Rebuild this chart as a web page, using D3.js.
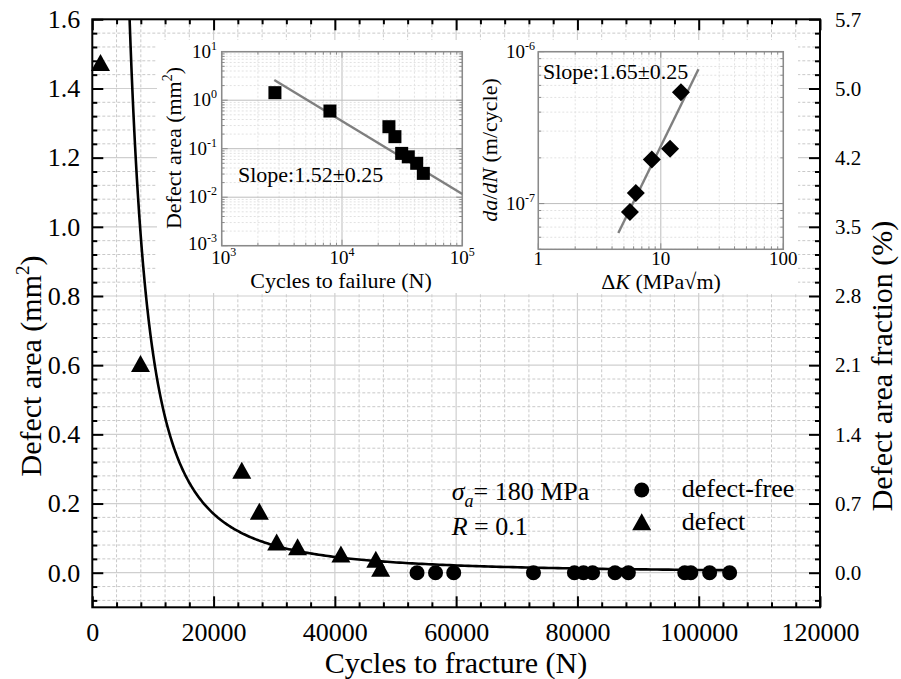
<!DOCTYPE html>
<html><head><meta charset="utf-8">
<script src="https://cdn.jsdelivr.net/npm/d3@7"></script>
<style>
body{margin:0;background:#fff;}
svg{display:block;}
text{font-family:"Liberation Serif","Times New Roman",serif;fill:#000;}
</style></head><body>
<svg id="chart" width="901" height="679"></svg>
<script>
// ---- main panel: cycles to fracture vs defect area ----
const defectCycles = [1350, 7950, 24650, 27550, 30400, 33850, 41000, 46750, 47550];
const defectArea   = [1.475, 0.605, 0.296, 0.178, 0.089, 0.075, 0.054, 0.039, 0.013];
const freeCycles = [53550, 56600, 59600, 72750, 79500, 81000, 82500, 86200, 88400, 97700, 98700, 101800, 105100];
const freeArea   = [0, 0, 0, 0, 0, 0, 0, 0, 0, 0, 0, 0, 0];
// power-law fit: area = A * N^(-b)
const fitCoef  = [2.53e7, 1.9];
const fitRange = [5000, 105200];

const xTicks = [0, 20000, 40000, 60000, 80000, 100000, 120000];
const yTicks = [0.0, 0.2, 0.4, 0.6, 0.8, 1.0, 1.2, 1.4, 1.6];
const fractionLabels = ["0.0", "0.7", "1.4", "2.1", "2.8", "3.5", "4.2", "5.0", "5.7"];

// ---- inset A: log-log defect area vs cycles to failure ----
const insetCycles = [2770, 7940, 24550, 27540, 31340, 35560, 41780, 47430];
const insetArea   = [1.43, 0.598, 0.284, 0.177, 0.080, 0.068, 0.050, 0.031];
const insetFitCycles = [2735, 100000];
const insetFitArea   = [2.61, 0.0116];
const insetXTicks = [1e3, 1e4, 1e5];
const insetXExp   = ["3", "4", "5"];
const insetYTicks = [1e-3, 1e-2, 1e-1, 1e0, 1e1];
const insetYExp   = ["-3", "-2", "-1", "0", "1"];

// ---- inset B: crack growth rate vs stress intensity range ----
const deltaK     = [5.6, 6.25, 8.45, 11.9, 14.6];
const growthRate = [8.8e-8, 1.175e-7, 1.95e-7, 2.3e-7, 5.4e-7];
const growthFitK    = [4.5, 20.3];
const growthFitRate = [6.4e-8, 7.66e-7];
const growthXTicks  = [1, 10, 100];
const growthXLabels = ["1", "10", "100"];
const growthYTicks  = [1e-7, 1e-6];
const growthYExp    = ["-7", "-6"];

const svg = d3.select("#chart");
const P = {x0: 92.3, x1: 820, y0: 19.3, y1: 607.3};
const x = d3.scaleLinear().domain([0, 120000]).range([P.x0, P.x1]);
const y = d3.scaleLinear().domain([-0.1, 1.6]).range([P.y1, P.y0]);

svg.append("rect").attr("width", 901).attr("height", 679).attr("fill", "#fff");

// grid
const grid = svg.append("g");
const xMinor = d3.range(0, 31).map(i => i * 4000).filter(v => v % 20000 !== 0);
const yMinor = d3.range(-2, 41).map(i => +(i * 0.04).toFixed(2)).filter((v, i) => (i - 2) % 5 !== 0);
grid.selectAll(".xm").data(xMinor).join("line")
  .attr("x1", d => x(d)).attr("x2", d => x(d)).attr("y1", P.y0).attr("y2", P.y1)
  .attr("stroke", "#c9c9c9").attr("stroke-width", 1).attr("stroke-dasharray", "3,2");
grid.selectAll(".ym").data(yMinor).join("line")
  .attr("x1", P.x0).attr("x2", P.x1).attr("y1", d => y(d)).attr("y2", d => y(d))
  .attr("stroke", "#c9c9c9").attr("stroke-width", 1).attr("stroke-dasharray", "3,2");
grid.selectAll(".xM").data(xTicks.slice(1, -1)).join("line")
  .attr("x1", d => x(d)).attr("x2", d => x(d)).attr("y1", P.y0).attr("y2", P.y1)
  .attr("stroke", "#cfcfcf").attr("stroke-width", 1.2);
grid.selectAll(".yM").data(yTicks.slice(0, -1)).join("line")
  .attr("x1", P.x0).attr("x2", P.x1).attr("y1", d => y(d)).attr("y2", d => y(d))
  .attr("stroke", "#cfcfcf").attr("stroke-width", 1.2);

// axes with inward ticks
function axis(fn, scale, vals, size, tr, fmt, pad) {
  const g = svg.append("g").attr("transform", tr)
    .call(fn(scale).tickValues(vals).tickSize(size).tickPadding(pad || 0).tickFormat(fmt || (() => "")));
  g.select(".domain").remove();
  g.selectAll(".tick line").attr("stroke", "#000").attr("stroke-width", 2);
  g.attr("font-family", null).attr("font-size", null);
  return g;
}
const yMinorTicks = yMinor;
axis(d3.axisLeft, y, yTicks, -11, `translate(${P.x0},0)`, d => d.toFixed(1), 12)
  .selectAll("text").attr("font-size", 26).attr("font-family", "Liberation Serif");
axis(d3.axisLeft, y, yMinorTicks, -5, `translate(${P.x0},0)`);
axis(d3.axisRight, y, yTicks, -11, `translate(${P.x1},0)`, (d, i) => fractionLabels[i], 15)
  .selectAll("text").attr("font-size", 21).attr("font-family", "Liberation Sans");
axis(d3.axisRight, y, yMinorTicks, -5, `translate(${P.x1},0)`);
axis(d3.axisBottom, x, xTicks, -11, `translate(0,${P.y1})`, d => d, 15)
  .selectAll("text").attr("font-size", 26).attr("font-family", "Liberation Serif");
axis(d3.axisBottom, x, xMinor, -5, `translate(0,${P.y1})`);
axis(d3.axisTop, x, xTicks, -11, `translate(0,${P.y0})`);
axis(d3.axisTop, x, xMinor, -5, `translate(0,${P.y0})`);

svg.append("rect").attr("x", P.x0).attr("y", P.y0).attr("width", P.x1 - P.x0).attr("height", P.y1 - P.y0)
  .attr("fill", "none").attr("stroke", "#000").attr("stroke-width", 2);

// axis titles
svg.append("text").attr("x", 456).attr("y", 673).attr("text-anchor", "middle").attr("font-size", 30)
  .text("Cycles to fracture (N)");
const yt = svg.append("text").attr("transform", "translate(41,366) rotate(-90)")
  .attr("text-anchor", "middle").attr("font-size", 30);
yt.append("tspan").text("Defect area (mm");
yt.append("tspan").attr("font-size", 19).attr("dy", -12).text("2");
yt.append("tspan").attr("dy", 12).text(")");
svg.append("text").attr("transform", "translate(892,366) rotate(-90)")
  .attr("text-anchor", "middle").attr("font-size", 30).text("Defect area fraction (%)");

// fitted curve
svg.append("clipPath").attr("id", "plotclip").append("rect")
  .attr("x", P.x0).attr("y", P.y0).attr("width", P.x1 - P.x0).attr("height", P.y1 - P.y0);
const curveN = d3.range(0, 301).map(i => fitRange[0] * Math.pow(fitRange[1] / fitRange[0], i / 300));
svg.append("path").attr("clip-path", "url(#plotclip)")
  .attr("d", d3.line().x(d => x(d)).y(d => y(fitCoef[0] * Math.pow(d, -fitCoef[1])))(curveN))
  .attr("fill", "none").attr("stroke", "#000").attr("stroke-width", 2.6);

// markers
const tri = (w, h) => `M0,${-h / 2}L${w / 2},${h / 2}L${-w / 2},${h / 2}Z`;
svg.append("g").selectAll("path").data(defectCycles).join("path")
  .attr("transform", (d, i) => `translate(${x(d)},${y(defectArea[i])})`)
  .attr("d", tri(19, 17)).attr("fill", "#000");
svg.append("g").selectAll("circle").data(freeCycles).join("circle")
  .attr("cx", d => x(d)).attr("cy", (d, i) => y(freeArea[i])).attr("r", 7.5).attr("fill", "#000");

// annotation and legend
const s1 = svg.append("text").attr("x", 451.7).attr("y", 500).attr("font-size", 26);
s1.append("tspan").attr("font-style", "italic").text("σ");
s1.append("tspan").attr("font-style", "italic").attr("font-size", 18).attr("dy", 7).text("a");
s1.append("tspan").attr("dy", -7).text("= 180 MPa");
const s2 = svg.append("text").attr("x", 451.7).attr("y", 535).attr("font-size", 26);
s2.append("tspan").attr("font-style", "italic").text("R");
s2.append("tspan").text(" = 0.1");
svg.append("circle").attr("cx", 641.7).attr("cy", 490).attr("r", 7.5).attr("fill", "#000");
svg.append("path").attr("transform", "translate(641.7,521.7)").attr("d", tri(19, 17)).attr("fill", "#000");
svg.append("text").attr("x", 681.7).attr("y", 497).attr("font-size", 26).text("defect-free");
svg.append("text").attr("x", 681.7).attr("y", 530).attr("font-size", 26).text("defect");

// ---- insets ----
svg.append("rect").attr("x", 157).attr("y", 40).attr("width", 641).attr("height", 253).attr("fill", "#fff");

function logGrid(g, sx, sy, majorsX, majorsY) {
  const [ax0, ax1] = sx.range(), [ay0, ay1] = sy.range();
  const isMajor = (v, arr) => arr.some(m => Math.abs(Math.log10(v) - Math.log10(m)) < 1e-6);
  g.selectAll(".gx").data(sx.ticks()).join("line")
    .attr("x1", d => sx(d)).attr("x2", d => sx(d)).attr("y1", ay0).attr("y2", ay1)
    .attr("stroke", d => isMajor(d, majorsX) ? "#bdbdbd" : "#e2e2e2")
    .attr("stroke-dasharray", d => isMajor(d, majorsX) ? null : "2,2").attr("stroke-width", 1);
  g.selectAll(".gy").data(sy.ticks()).join("line")
    .attr("x1", ax0).attr("x2", ax1).attr("y1", d => sy(d)).attr("y2", d => sy(d))
    .attr("stroke", d => isMajor(d, majorsY) ? "#bdbdbd" : "#e2e2e2")
    .attr("stroke-dasharray", d => isMajor(d, majorsY) ? null : "2,2").attr("stroke-width", 1);
  // inward ticks on all four sides
  const tk = [];
  sx.ticks().forEach(d => {
    const L = isMajor(d, majorsX) ? 6 : 3;
    tk.push([sx(d), ay0, sx(d), ay0 - L], [sx(d), ay1, sx(d), ay1 + L]);
  });
  sy.ticks().forEach(d => {
    const L = isMajor(d, majorsY) ? 6 : 3;
    tk.push([ax0, sy(d), ax0 + L, sy(d)], [ax1, sy(d), ax1 - L, sy(d)]);
  });
  g.selectAll(".tk").data(tk).join("line")
    .attr("x1", d => d[0]).attr("y1", d => d[1]).attr("x2", d => d[2]).attr("y2", d => d[3])
    .attr("stroke", "#8a8a8a").attr("stroke-width", 1);
  g.append("rect").attr("x", ax0).attr("y", ay1).attr("width", ax1 - ax0).attr("height", ay0 - ay1)
    .attr("fill", "none").attr("stroke", "#8a8a8a").attr("stroke-width", 1.5);
}
function powText(g, xx, yy, exp, anchor) {
  const t = g.append("text").attr("x", xx).attr("y", yy).attr("font-size", 19).attr("text-anchor", anchor);
  t.append("tspan").text("10");
  t.append("tspan").attr("font-size", 12).attr("dy", -8).text(exp);
  return t;
}

// inset A
const ax = d3.scaleLog().domain([1e3, 1e5]).range([221.7, 462.3]);
const ay = d3.scaleLog().domain([1e-3, 10]).range([245.7, 51.7]);
const gA = svg.append("g");
logGrid(gA, ax, ay, insetXTicks, insetYTicks);
gA.append("path")
  .attr("d", d3.line().x(d => ax(d)).y((d, i) => ay(insetFitArea[i]))(insetFitCycles))
  .attr("stroke", "#7f7f7f").attr("stroke-width", 2.4).attr("fill", "none");
gA.selectAll(".sq").data(insetCycles).join("rect")
  .attr("x", d => ax(d) - 6.5).attr("y", (d, i) => ay(insetArea[i]) - 6.5)
  .attr("width", 13).attr("height", 13).attr("fill", "#000");
insetXTicks.forEach((v, i) => powText(gA, ax(v) + (i === 0 ? 2 : 0), 264, insetXExp[i], "middle"));
insetYTicks.forEach((v, i) => powText(gA, 217, ay(v) + (i === 0 ? 4 : 6), insetYExp[i], "end"));
gA.append("text").attr("x", 341).attr("y", 288).attr("text-anchor", "middle").attr("font-size", 22)
  .text("Cycles to failure (N)");
const ayt = gA.append("text").attr("transform", "translate(181,148) rotate(-90)")
  .attr("text-anchor", "middle").attr("font-size", 22);
ayt.append("tspan").text("Defect area (mm");
ayt.append("tspan").attr("font-size", 14).attr("dy", -9).text("2");
ayt.append("tspan").attr("dy", 9).text(")");
gA.append("text").attr("x", 238).attr("y", 182).attr("font-size", 22).text("Slope:1.52±0.25");

// inset B
const bx = d3.scaleLog().domain([1, 100]).range([538.3, 783.3]);
const by = d3.scaleLog().domain([5e-8, 1e-6]).range([249.3, 51.7]);
const gB = svg.append("g");
logGrid(gB, bx, by, growthXTicks, growthYTicks);
gB.append("path")
  .attr("d", d3.line().x(d => bx(d)).y((d, i) => by(growthFitRate[i]))(growthFitK))
  .attr("stroke", "#7f7f7f").attr("stroke-width", 2.4).attr("fill", "none");
gB.selectAll(".dm").data(deltaK).join("path")
  .attr("transform", (d, i) => `translate(${bx(d)},${by(growthRate[i])})`)
  .attr("d", "M0,-9L9,0L0,9L-9,0Z").attr("fill", "#000");
growthXTicks.forEach((v, i) => gB.append("text").attr("x", bx(v)).attr("y", 265)
  .attr("text-anchor", "middle").attr("font-size", 19).text(growthXLabels[i]));
growthYTicks.forEach((v, i) => powText(gB, 535, by(v) + 6, growthYExp[i], "end"));
const bxt = gB.append("text").attr("x", 661).attr("y", 289).attr("text-anchor", "middle").attr("font-size", 22);
bxt.append("tspan").text("Δ");
bxt.append("tspan").attr("font-style", "italic").text("K");
bxt.append("tspan").text(" (MPa√m)");
const byt = gB.append("text").attr("transform", "translate(497,150) rotate(-90)")
  .attr("text-anchor", "middle").attr("font-size", 22);
byt.append("tspan").attr("font-style", "italic").text("da");
byt.append("tspan").text("/");
byt.append("tspan").attr("font-style", "italic").text("dN");
byt.append("tspan").text(" (m/cycle)");
gB.append("text").attr("x", 543).attr("y", 79).attr("font-size", 22).text("Slope:1.65±0.25");
</script>
</body></html>
